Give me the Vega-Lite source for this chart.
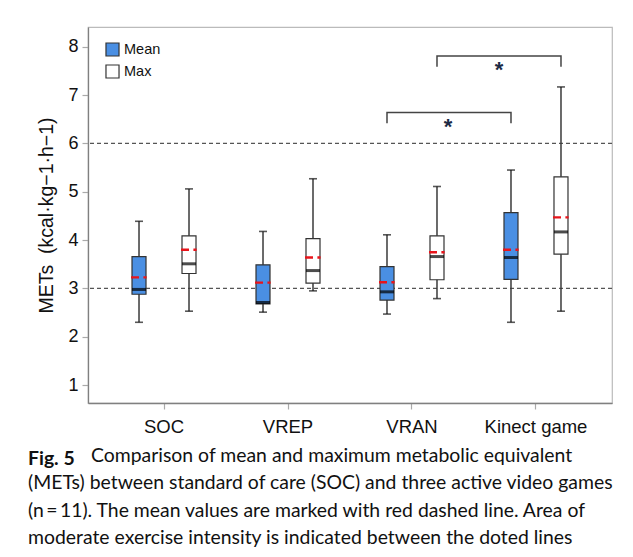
{
  "$schema": "https://vega.github.io/schema/vega-lite/v6.json",
  "width": 524,
  "height": 376,
  "autosize": {"type": "none"},
  "padding": {"left": 88, "top": 27, "right": 21, "bottom": 154},
  "background": "white",
  "config": {
    "font": "Liberation Sans",
    "view": {"stroke": "#bbbbbb", "strokeWidth": 1.2}
  },
  "title": {
    "text": "Fig. 5",
    "subtitle": [
      "\u200b\u2003\u2003\u2003\u2003\u2009\u2009Comparison of mean and maximum metabolic equivalent",
      "(METs) between standard of care (SOC) and three active video games",
      "(n\u2009=\u200911). The mean values are marked with red dashed line. Area of",
      "moderate exercise intensity is indicated between the doted lines"
    ],
    "orient": "bottom",
    "anchor": "start",
    "frame": "group",
    "dx": -60,
    "offset": 14,
    "font": "Lato",
    "fontSize": 19.4,
    "fontWeight": "bold",
    "color": "#111111",
    "lineHeight": 28,
    "subtitleFont": "Lato",
    "subtitleFontSize": 19.4,
    "subtitleFontWeight": "normal",
    "subtitleColor": "#111111",
    "subtitleLineHeight": 27.5,
    "subtitlePadding": -22
  },
  "datasets": {
    "boxes": [
      {"grp": "SOC", "type": "Mean", "lo": 2.30, "q1": 2.88, "med": 2.98, "q3": 3.66, "hi": 4.39, "mean": 3.23},
      {"grp": "SOC", "type": "Max", "lo": 2.53, "q1": 3.31, "med": 3.51, "q3": 4.09, "hi": 5.06, "mean": 3.80},
      {"grp": "VREP", "type": "Mean", "lo": 2.51, "q1": 2.68, "med": 2.71, "q3": 3.49, "hi": 4.18, "mean": 3.12},
      {"grp": "VREP", "type": "Max", "lo": 2.95, "q1": 3.11, "med": 3.37, "q3": 4.03, "hi": 5.27, "mean": 3.64},
      {"grp": "VRAN", "type": "Mean", "lo": 2.47, "q1": 2.76, "med": 2.93, "q3": 3.45, "hi": 4.11, "mean": 3.13},
      {"grp": "VRAN", "type": "Max", "lo": 2.79, "q1": 3.18, "med": 3.66, "q3": 4.09, "hi": 5.11, "mean": 3.75},
      {"grp": "Kinect game", "type": "Mean", "lo": 2.30, "q1": 3.19, "med": 3.64, "q3": 4.57, "hi": 5.45, "mean": 3.80},
      {"grp": "Kinect game", "type": "Max", "lo": 2.53, "q1": 3.71, "med": 4.17, "q3": 5.31, "hi": 7.17, "mean": 4.47}
    ],
    "brackets": [
      {"b": "A", "ord": 1, "grp": "VRAN", "type": "Mean", "y": 6.42},
      {"b": "A", "ord": 2, "grp": "VRAN", "type": "Mean", "y": 6.64},
      {"b": "A", "ord": 3, "grp": "Kinect game", "type": "Mean", "y": 6.64},
      {"b": "A", "ord": 4, "grp": "Kinect game", "type": "Mean", "y": 6.42},
      {"b": "B", "ord": 1, "grp": "VRAN", "type": "Max", "y": 7.59},
      {"b": "B", "ord": 2, "grp": "VRAN", "type": "Max", "y": 7.81},
      {"b": "B", "ord": 3, "grp": "Kinect game", "type": "Max", "y": 7.81},
      {"b": "B", "ord": 4, "grp": "Kinect game", "type": "Max", "y": 7.59}
    ]
  },
  "encoding": {
    "x": {
      "field": "grp",
      "type": "nominal",
      "sort": ["SOC", "VREP", "VRAN", "Kinect game"],
      "scale": {"type": "band", "paddingInner": 0, "paddingOuter": 0.113},
      "axis": {
        "title": null,
        "labelAngle": 0,
        "labelFont": "Liberation Sans",
        "labelFontSize": 18.5,
        "labelColor": "#111111",
        "labelPadding": 8,
        "domainColor": "#808080",
        "domainWidth": 1.3,
        "tickColor": "#aaaaaa",
        "tickSize": 6,
        "tickWidth": 1.2
      }
    },
    "xOffset": {
      "field": "type",
      "type": "nominal",
      "sort": ["Mean", "Max"],
      "scale": {"type": "band", "paddingInner": 0, "paddingOuter": 0.24}
    }
  },
  "layer": [
    {
      "data": {"values": [{"v": 3}, {"v": 6}]},
      "mark": {"type": "rule", "strokeDash": [4, 3], "color": "#555555", "strokeWidth": 1.3},
      "encoding": {
        "x": null,
        "xOffset": null,
        "y": {
          "field": "v",
          "type": "quantitative",
          "scale": {"domain": [0.63, 8.41], "nice": false, "zero": false},
          "axis": {
            "title": "METs\u00a0\u00a0(kcal\u00b7kg\u22121\u00b7h\u22121)",
            "titleFont": "Liberation Sans",
            "titleFontSize": 19.5,
            "titleFontWeight": "normal",
            "titleColor": "#111111",
            "titlePadding": 11,
            "values": [1, 2, 3, 4, 5, 6, 7, 8],
            "labelFont": "Liberation Sans",
            "labelFontSize": 18,
            "labelColor": "#111111",
            "labelPadding": 4,
            "grid": false,
            "domainColor": "#808080",
            "domainWidth": 1.3,
            "tickColor": "#aaaaaa",
            "tickSize": 6,
            "tickWidth": 1.2
          }
        }
      }
    },
    {
      "data": {"name": "boxes"},
      "mark": {"type": "rule", "color": "#3a3a3a", "strokeWidth": 1.5},
      "encoding": {
        "y": {"field": "lo", "type": "quantitative"},
        "y2": {"field": "hi"}
      }
    },
    {
      "data": {"name": "boxes"},
      "mark": {"type": "tick", "orient": "horizontal", "color": "#111111", "size": 8, "thickness": 1.6},
      "encoding": {"y": {"field": "lo", "type": "quantitative"}}
    },
    {
      "data": {"name": "boxes"},
      "mark": {"type": "tick", "orient": "horizontal", "color": "#111111", "size": 8, "thickness": 1.6},
      "encoding": {"y": {"field": "hi", "type": "quantitative"}}
    },
    {
      "data": {"name": "boxes"},
      "mark": {"type": "bar", "width": 14, "stroke": "#333333", "strokeWidth": 1.2},
      "encoding": {
        "y": {"field": "q1", "type": "quantitative"},
        "y2": {"field": "q3"},
        "fill": {
          "field": "type",
          "type": "nominal",
          "scale": {"domain": ["Mean", "Max"], "range": ["#4a8fe3", "#ffffff"]},
          "legend": {
            "title": null,
            "orient": "none",
            "legendX": 17,
            "legendY": 15,
            "symbolType": "square",
            "symbolSize": 170,
            "symbolStrokeColor": "#333333",
            "symbolStrokeWidth": 1.2,
            "symbolOpacity": 1,
            "labelFont": "Liberation Sans",
            "labelFontSize": 14.5,
            "labelColor": "#111111",
            "labelOffset": 4,
            "rowPadding": 3
          }
        }
      }
    },
    {
      "data": {"name": "boxes"},
      "mark": {"type": "tick", "orient": "horizontal", "color": "#000000", "size": 14, "thickness": 3},
      "encoding": {"y": {"field": "med", "type": "quantitative"}}
    },
    {
      "data": {"name": "boxes"},
      "mark": {"type": "point", "shape": "M-1,0L0,0M0.55,0L0.95,0", "filled": false, "stroke": "#e8141b", "strokeWidth": 2.4, "size": 256, "opacity": 1},
      "encoding": {"y": {"field": "mean", "type": "quantitative"}}
    },
    {
      "data": {"name": "brackets"},
      "mark": {"type": "line", "color": "#444444", "strokeWidth": 1.5},
      "encoding": {
        "y": {"field": "y", "type": "quantitative"},
        "detail": {"field": "b"},
        "order": {"field": "ord"}
      }
    },
    {
      "data": {"values": [{"grp": "VRAN", "type": "Max", "y": 6.42}]},
      "mark": {"type": "text", "text": "*", "fontSize": 22, "fontWeight": "bold", "color": "#1c2b45", "baseline": "middle", "dx": 11, "dy": 4},
      "encoding": {"y": {"field": "y", "type": "quantitative"}}
    },
    {
      "data": {"values": [{"grp": "Kinect game", "type": "Mean", "y": 7.61}]},
      "mark": {"type": "text", "text": "*", "fontSize": 22, "fontWeight": "bold", "color": "#1c2b45", "baseline": "middle", "dx": -12, "dy": 4},
      "encoding": {"y": {"field": "y", "type": "quantitative"}}
    }
  ]
}
